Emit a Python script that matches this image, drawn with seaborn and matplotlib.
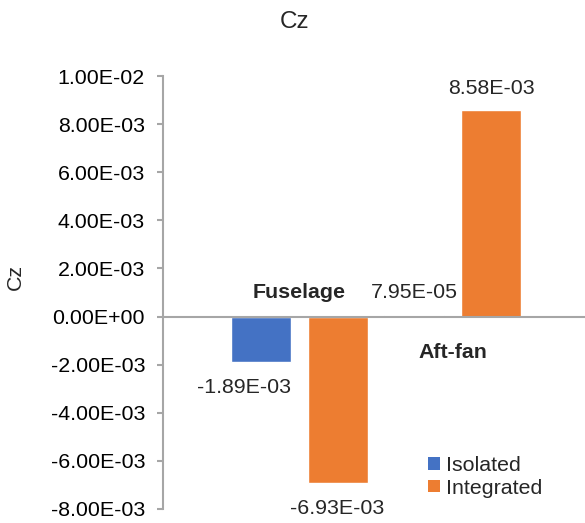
import matplotlib
matplotlib.use("Agg")
import matplotlib.pyplot as plt
import seaborn as sns
import pandas as pd
from matplotlib.ticker import FuncFormatter, MultipleLocator
from matplotlib.patches import Patch

categories = ["Fuselage", "Aft-fan"]
series = ["Isolated", "Integrated"]
isolated = [-1.89e-03, 7.95e-05]
integrated = [-6.93e-03, 8.58e-03]
value_labels = {"Isolated": ["-1.89E-03", "7.95E-05"],
                "Integrated": ["-6.93E-03", "8.58E-03"]}
colors = ["#4472C4", "#ED7D31"]

df = pd.DataFrame({
    "Component": categories * 2,
    "Case": ["Isolated"] * 2 + ["Integrated"] * 2,
    "Cz": isolated + integrated,
})

sns.set_style("white")
plt.rcParams["font.family"] = ["Liberation Sans", "DejaVu Sans"]
FS = 15.4
GREY = "#A6A6A6"

W, H = 585, 523
fig = plt.figure(figsize=(W / 100, H / 100), dpi=100)
ax = fig.add_axes([163 / W, (H - 509) / H, (585 - 163) / W, (509 - 76) / H])

sns.barplot(data=df, x="Component", y="Cz", hue="Case", order=categories,
            hue_order=series, palette=colors, width=1.0, gap=0.22,
            saturation=1, ax=ax, legend=False)

ax.set_ylim(-8e-3, 1e-2)
ax.set_xlim(-0.886, 1.86)
ax.yaxis.set_major_locator(MultipleLocator(2e-3))
ax.yaxis.set_major_formatter(FuncFormatter(lambda v, p: "{:.2E}".format(0.0 if abs(v) < 1e-12 else v)))
ax.tick_params(axis="y", which="major", left=True, length=4.3, width=1.5,
               color=GREY, pad=8.6, labelsize=FS, labelcolor="black")
ax.set_xticks([])
ax.set_xlabel("")
ax.set_ylabel("")
for s in ["top", "right", "bottom"]:
    ax.spines[s].set_visible(False)
ax.spines["left"].set_color(GREY)
ax.spines["left"].set_linewidth(1.5)
ax.axhline(0, color=GREY, lw=1.5, zorder=3)

fig.text(15 / W, 1 - 277 / H, "Cz", fontsize=FS, rotation=90, ha="center", va="center")
fig.text(295 / W, 1 - 22 / H, "Cz", fontsize=17.5, ha="center", va="center")

# data labels
offsets = {("Isolated", 0): (-17, -25), ("Isolated", 1): (0, 22),
           ("Integrated", 0): (0, -25), ("Integrated", 1): (0, 22)}
for name, cont in zip(series, ax.containers):
    for i, bar in enumerate(cont):
        x = bar.get_x() + bar.get_width() / 2
        y0, y1 = bar.get_y(), bar.get_y() + bar.get_height()
        y = max(y0, y1) if offsets[(name, i)][1] > 0 else min(y0, y1)
        dx, dy = offsets[(name, i)]
        ax.annotate(value_labels[name][i], (x, y), xytext=(dx * 0.72, dy * 0.72),
                    textcoords="offset points", ha="center", va="center", fontsize=FS)

# category labels
ax.annotate(categories[0], (0, 0), xytext=(0, 24 * 0.72), textcoords="offset points",
            ha="center", va="center", fontsize=FS, fontweight="bold")
ax.annotate(categories[1], (1, 0), xytext=(0, -36 * 0.72), textcoords="offset points",
            ha="center", va="center", fontsize=FS, fontweight="bold")

handles = [Patch(facecolor=c, edgecolor="none") for c in colors]
fig.legend(handles, series, loc="center left", bbox_to_anchor=(428 / W, 1 - 477 / H),
           frameon=False, fontsize=FS, handlelength=0.55, handleheight=0.55,
           handletextpad=0.3, labelspacing=0.15, borderpad=0, borderaxespad=0)

fig.savefig("out.png", dpi=100)
